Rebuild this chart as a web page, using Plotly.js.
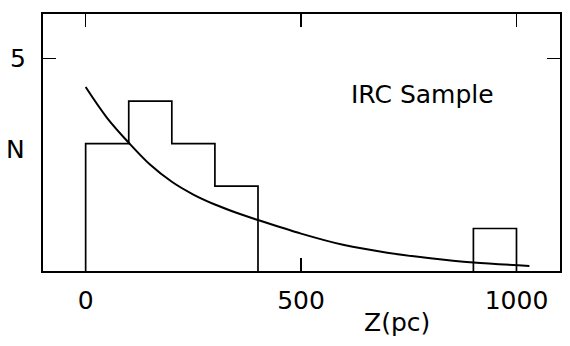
<!DOCTYPE html>
<html>
<head>
<meta charset="utf-8">
<script src="https://cdn.plot.ly/plotly-3.0.1.min.js"></script>
<style>html,body{margin:0;padding:0;background:#fff;}#chart{width:570px;height:346px;}</style>
</head>
<body>
<div id="chart"></div>
<script>
// Histogram bins (Z in pc) and counts
const binLefts = [0, 100, 200, 300, 900];
const binCounts = [3, 4, 3, 2, 1];
const binWidth = 100;
// Model curve
const curveZ = [0, 50, 100, 150, 200, 250, 300, 350, 400, 500, 600, 700, 800, 900, 1030];
const curveN = [4.33, 3.6, 3.02, 2.5, 2.1, 1.8, 1.565, 1.37, 1.2, 0.88, 0.61, 0.43, 0.3, 0.2, 0.12];
const xTicks = [0, 500, 1000];
const yTicks = [5];

// Build histogram outline (step) from the bins: contiguous bins form one outline
const histX = [], histY = [];
for (let i = 0; i < binLefts.length; i++) {
  const left = binLefts[i], right = left + binWidth;
  const startsGroup = i === 0 || binLefts[i - 1] + binWidth !== left;
  const endsGroup = i === binLefts.length - 1 || binLefts[i + 1] !== right;
  if (startsGroup) {
    if (i > 0) { histX.push(null); histY.push(null); }
    histX.push(left); histY.push(0);
  }
  histX.push(left, right); histY.push(binCounts[i], binCounts[i]);
  if (endsGroup) { histX.push(right); histY.push(0); }
}

const font = {family: 'DejaVu Sans, sans-serif', color: '#000', size: 25};

const data = [
  {type: 'scatter', mode: 'lines', x: histX, y: histY, connectgaps: false,
   line: {color: '#000', width: 1.7}, hoverinfo: 'skip'},
  {type: 'scatter', mode: 'lines', x: curveZ, y: curveN,
   line: {color: '#000', width: 2, shape: 'spline', smoothing: 1}, hoverinfo: 'skip'}
];

const layout = {
  width: 570, height: 346,
  margin: {l: 43, r: 10, t: 14, b: 75},
  paper_bgcolor: '#fff', plot_bgcolor: '#fff',
  showlegend: false,
  font: font,
  xaxis: {range: [-99, 1101], tickvals: xTicks, ticktext: xTicks.map(String),
          ticks: 'inside', ticklen: 13, tickwidth: 1.6, tickcolor: '#000',
          showline: true, linewidth: 2, linecolor: '#000', mirror: 'ticks',
          showgrid: false, zeroline: false, ticklabelstandoff: 6,
          tickfont: font},
  yaxis: {range: [0, 6.05], tickvals: yTicks, ticktext: yTicks.map(String),
          ticks: 'inside', ticklen: 13, tickwidth: 1.6, tickcolor: '#000',
          showline: true, linewidth: 2, linecolor: '#000', mirror: 'ticks',
          showgrid: false, zeroline: false, ticklabelstandoff: 10,
          tickfont: font},
  annotations: [
    {text: 'IRC Sample', xref: 'paper', yref: 'paper', x: 0.734, y: 0.685,
     xanchor: 'center', yanchor: 'middle', showarrow: false, font: font},
    {text: 'N', xref: 'paper', yref: 'paper', x: -0.053, y: 0.471,
     xanchor: 'center', yanchor: 'middle', showarrow: false, font: font},
    {text: 'Z(pc)', xref: 'paper', yref: 'paper', x: 0.685, y: -0.202,
     xanchor: 'center', yanchor: 'middle', showarrow: false, font: font}
  ]
};

Plotly.newPlot('chart', data, layout, {staticPlot: true, displayModeBar: false});
</script>
</body>
</html>
